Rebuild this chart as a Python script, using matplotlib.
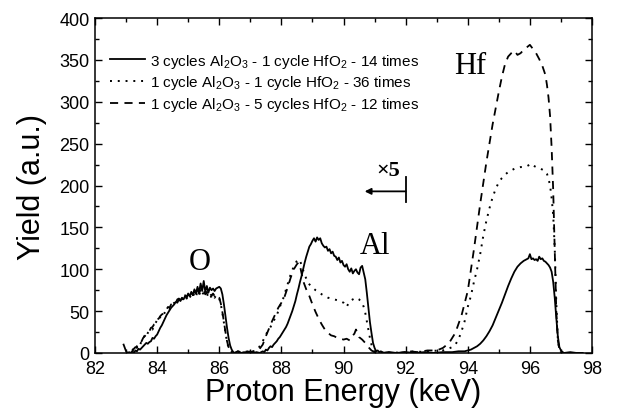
import matplotlib
matplotlib.use("Agg")
import matplotlib.pyplot as plt
from matplotlib.ticker import MultipleLocator

plt.rcParams['font.family'] = ['Liberation Sans', 'DejaVu Sans']
plt.rcParams['mathtext.default'] = 'regular'

# ---------------- data ----------------
e_solid = [82.92, 82.96, 83.00, 83.05, 83.10, 83.15, 83.20, 83.25, 83.30, 83.35, 83.40, 83.45, 83.50, 83.55,
           83.60, 83.65, 83.70, 83.75, 83.80, 83.85, 83.90, 83.95, 84.00, 84.05, 84.10, 84.15, 84.20, 84.25,
           84.30, 84.35, 84.40, 84.45, 84.50, 84.55, 84.60, 84.65, 84.70, 84.75, 84.80, 84.85, 84.90, 84.95,
           85.00, 85.05, 85.10, 85.15, 85.20, 85.25, 85.30, 85.35, 85.40, 85.45, 85.50, 85.55, 85.60, 85.65,
           85.70, 85.75, 85.80, 85.85, 85.90, 85.95, 86.00, 86.05, 86.10, 86.15, 86.20, 86.25, 86.30, 86.35,
           86.40, 86.45, 86.50, 86.60, 86.70, 86.80, 86.90, 87.00, 87.10, 87.20, 87.30, 87.40, 87.45, 87.50,
           87.55, 87.60, 87.65, 87.70, 87.75, 87.80, 87.85, 87.90, 87.95, 88.00, 88.05, 88.10, 88.15, 88.20,
           88.25, 88.30, 88.35, 88.40, 88.45, 88.50, 88.55, 88.60, 88.65, 88.70, 88.75, 88.80, 88.85, 88.90,
           88.95, 89.00, 89.05, 89.10, 89.15, 89.20, 89.25, 89.30, 89.35, 89.40, 89.45, 89.50, 89.55, 89.60,
           89.65, 89.70, 89.75, 89.80, 89.85, 89.90, 89.95, 90.00, 90.05, 90.10, 90.15, 90.20, 90.25, 90.30,
           90.35, 90.40, 90.45, 90.50, 90.55, 90.60, 90.65, 90.70, 90.75, 90.80, 90.85, 90.90, 90.95, 91.00,
           91.05, 91.10, 91.15, 91.20, 91.30, 91.50, 91.70, 92.00, 92.30, 92.60, 92.90, 93.20, 93.50, 93.70,
           93.90, 94.00, 94.10, 94.20, 94.30, 94.40, 94.50, 94.60, 94.70, 94.80, 94.90, 95.00, 95.10, 95.20,
           95.30, 95.40, 95.50, 95.60, 95.70, 95.80, 95.90, 95.95, 96.00, 96.05, 96.10, 96.15, 96.20, 96.25,
           96.30, 96.35, 96.40, 96.45, 96.50, 96.55, 96.60, 96.65, 96.70, 96.75, 96.80, 96.85, 96.90, 96.95,
           97.00, 97.05, 97.10, 97.30, 97.50, 97.70]
y_solid = [10, 6, 2, 0, 1, 0, 2, 0, 3, 2, 5, 4, 6, 8,
           10, 12, 11, 13, 14, 18, 17, 20, 22, 26, 30, 33, 37, 41,
           45, 48, 51, 54, 56, 58, 61, 60, 64, 62, 66, 64, 68, 66,
           70, 68, 73, 69, 76, 71, 79, 72, 83, 74, 86, 73, 80, 72,
           78, 75, 77, 74, 77, 78, 79, 77, 70, 58, 44, 30, 18, 9,
           4, 1, 0, 2, 0, 1, 0, 2, 0, 1, 0, 2, 1, 4,
           3, 6, 8, 7, 10, 12, 14, 17, 19, 22, 25, 28, 31, 35,
           40, 45, 50, 56, 62, 70, 77, 85, 92, 100, 108, 115, 121, 127,
           130, 134, 137, 133, 138, 135, 137, 131, 128, 126, 127, 122, 124, 119,
           121, 116, 115, 111, 114, 108, 110, 105, 103, 106, 100, 97, 101, 95,
           98, 100, 96, 94, 102, 104, 96, 88, 72, 54, 37, 24, 12, 6,
           2, 3, 1, 2, 0, 1, 0, 1, 0, 1, 0, 1, 1, 2,
           2, 3, 4, 6, 8, 11, 15, 20, 26, 33, 42, 51, 60, 70,
           80, 89, 97, 103, 107, 110, 112, 113, 118, 112, 113, 111, 112, 110,
           115, 112, 113, 110, 109, 107, 105, 102, 97, 85, 66, 42, 20, 7,
           3, 1, 0, 1, 0, 0]

e_dot = [83.20, 83.25, 83.30, 83.35, 83.40, 83.45, 83.50, 83.55, 83.60, 83.65, 83.70, 83.75, 83.80, 83.85,
         83.90, 83.95, 84.00, 84.05, 84.10, 84.15, 84.20, 84.25, 84.30, 84.35, 84.40, 84.45, 84.50, 84.55,
         84.60, 84.65, 84.70, 84.75, 84.80, 84.85, 84.90, 84.95, 85.00, 85.05, 85.10, 85.15, 85.20, 85.25,
         85.30, 85.35, 85.40, 85.45, 85.50, 85.55, 85.60, 85.65, 85.70, 85.75, 85.80, 85.85, 85.90, 85.95,
         86.00, 86.05, 86.10, 86.15, 86.20, 86.25, 86.30, 86.35, 86.40, 86.50, 86.60, 86.70, 86.80, 86.90,
         87.00, 87.10, 87.20, 87.25, 87.30, 87.35, 87.40, 87.45, 87.50, 87.55, 87.60, 87.65, 87.70, 87.75,
         87.80, 87.85, 87.90, 87.95, 88.00, 88.05, 88.10, 88.15, 88.20, 88.25, 88.30, 88.35, 88.40, 88.45,
         88.50, 88.55, 88.60, 88.65, 88.70, 88.75, 88.80, 88.85, 88.90, 88.95, 89.00, 89.10, 89.20, 89.30,
         89.40, 89.50, 89.60, 89.70, 89.80, 89.90, 90.00, 90.10, 90.20, 90.30, 90.40, 90.50, 90.60, 90.65,
         90.70, 90.75, 90.80, 90.85, 90.90, 90.95, 91.00, 91.10, 91.30, 91.60, 92.00, 92.30, 92.60, 92.90,
         93.10, 93.30, 93.50, 93.60, 93.70, 93.80, 93.90, 94.00, 94.10, 94.20, 94.30, 94.40, 94.50, 94.60,
         94.70, 94.80, 94.90, 95.00, 95.10, 95.20, 95.30, 95.40, 95.50, 95.60, 95.70, 95.80, 95.90, 96.00,
         96.05, 96.10, 96.20, 96.30, 96.40, 96.50, 96.55, 96.60, 96.65, 96.70, 96.75, 96.80, 96.85, 96.90,
         96.95, 97.00, 97.10, 97.40, 97.70]
y_dot = [3, 6, 4, 8, 11, 9, 15, 17, 21, 19, 24, 27, 29, 28,
         33, 36, 39, 38, 43, 45, 44, 49, 51, 53, 52, 56, 58, 60,
         58, 62, 64, 61, 65, 63, 67, 65, 69, 66, 70, 67, 72, 68,
         73, 69, 74, 70, 72, 69, 71, 67, 70, 66, 69, 66, 69, 67,
         65, 58, 48, 36, 24, 13, 6, 3, 1, 0, 1, 0, 2, 1,
         0, 2, 3, 5, 8, 10, 14, 18, 22, 25, 28, 31, 35, 38,
         42, 45, 50, 55, 60, 64, 70, 76, 82, 88, 94, 99, 103, 107,
         110, 112, 110, 105, 99, 93, 89, 85, 82, 80, 78, 75, 73, 70,
         68, 66, 65, 64, 63, 62, 60, 55, 62, 64, 66, 64, 60, 55,
         48, 38, 28, 18, 10, 4, 1, 0, 1, 0, 1, 2, 1, 3,
         2, 4, 7, 10, 16, 26, 38, 55, 68, 85, 100, 118, 140, 158,
         173, 186, 196, 204, 209, 213, 216, 218, 220, 221, 222, 222, 223, 225,
         223, 224, 222, 221, 219, 217, 214, 208, 200, 185, 165, 125, 60, 16,
         4, 1, 0, 0, 0]

e_dash = [83.20, 83.25, 83.30, 83.35, 83.40, 83.45, 83.50, 83.55, 83.60, 83.65, 83.70, 83.75, 83.80, 83.85,
          83.90, 83.95, 84.00, 84.05, 84.10, 84.15, 84.20, 84.25, 84.30, 84.35, 84.40, 84.45, 84.50, 84.55,
          84.60, 84.65, 84.70, 84.75, 84.80, 84.85, 84.90, 84.95, 85.00, 85.05, 85.10, 85.15, 85.20, 85.25,
          85.30, 85.35, 85.40, 85.45, 85.50, 85.55, 85.60, 85.65, 85.70, 85.75, 85.80, 85.85, 85.90, 85.95,
          86.00, 86.05, 86.10, 86.15, 86.20, 86.25, 86.30, 86.35, 86.40, 86.50, 86.60, 86.70, 86.80, 86.90,
          87.00, 87.10, 87.20, 87.30, 87.40, 87.50, 87.60, 87.70, 87.80, 87.90, 88.00, 88.10, 88.20, 88.30,
          88.40, 88.50, 88.55, 88.60, 88.65, 88.70, 88.80, 88.90, 89.00, 89.10, 89.20, 89.30, 89.40, 89.50,
          89.60, 89.70, 89.80, 89.90, 90.00, 90.10, 90.20, 90.30, 90.35, 90.40, 90.45, 90.50, 90.60, 90.70,
          90.80, 90.90, 91.00, 91.20, 91.50, 91.80, 92.10, 92.40, 92.70, 93.00, 93.20, 93.40, 93.60, 93.80,
          94.00, 94.20, 94.40, 94.60, 94.80, 95.00, 95.10, 95.20, 95.30, 95.40, 95.50, 95.60, 95.70, 95.80,
          95.90, 96.00, 96.10, 96.20, 96.30, 96.40, 96.50, 96.55, 96.60, 96.65, 96.70, 96.75, 96.80, 96.85,
          96.90, 96.95, 97.00, 97.10, 97.40, 97.70]
y_dash = [2, 5, 7, 6, 10, 12, 14, 18, 20, 22, 25, 26, 30, 31,
          34, 35, 40, 41, 44, 46, 47, 50, 52, 55, 54, 58, 59, 61,
          60, 64, 65, 63, 67, 66, 69, 67, 71, 68, 72, 69, 74, 70,
          75, 71, 76, 72, 74, 70, 73, 69, 72, 68, 71, 68, 70, 68,
          66, 59, 49, 37, 25, 14, 7, 3, 1, 0, 2, 1, 0, 2,
          1, 2, 3, 5, 10, 20, 29, 38, 46, 54, 60, 67, 78, 90,
          100, 106, 108, 104, 95, 86, 76, 68, 58, 49, 41, 34, 28, 24,
          21, 20, 18, 17, 16, 17, 15, 21, 23, 28, 24, 19, 16, 12,
          7, 3, 1, 0, 1, 0, 2, 1, 3, 3, 6, 12, 24, 45,
          74, 124, 178, 228, 273, 312, 330, 345, 354, 358, 361, 356, 358, 362,
          365, 368, 363, 358, 351, 343, 332, 320, 305, 283, 245, 195, 120, 50,
          15, 4, 1, 0, 0, 0]

labels = ["3 cycles Al$_2$O$_3$ - 1 cycle HfO$_2$ - 14 times",
          "1 cycle Al$_2$O$_3$ - 1 cycle HfO$_2$ - 36 times",
          "1 cycle Al$_2$O$_3$ - 5 cycles HfO$_2$ - 12 times"]

peak_names = ["O", "Al", "Hf"]
peak_pos = [(85.38, 109), (91.0, 128), (94.07, 343)]

# ---------------- figure ----------------
fig = plt.figure(figsize=(6.17, 4.14), dpi=100)
ax = fig.add_axes([0.154, 0.145, 0.8055, 0.809])

ax.plot(e_solid, y_solid, color='k', lw=1.3, ls='-', label=labels[0])
ax.plot(e_dot, y_dot, color='k', lw=1.4, ls=(0, (1, 3)), label=labels[1])
ax.plot(e_dash, y_dash, color='k', lw=1.3, ls=(0, (4.5, 3.5)), label=labels[2])

ax.set_xlim(82, 98)
ax.set_ylim(0, 400)
ax.xaxis.set_major_locator(MultipleLocator(2))
ax.xaxis.set_minor_locator(MultipleLocator(1))
ax.yaxis.set_major_locator(MultipleLocator(50))
ax.yaxis.set_minor_locator(MultipleLocator(25))
ax.tick_params(which='both', direction='in', top=True, right=True, width=1.0)
ax.tick_params(which='major', length=5, labelsize=13)
ax.tick_params(axis='y', which='major', pad=4)
ax.tick_params(axis='x', which='major', pad=5)
ax.tick_params(which='minor', length=3)
for s in ax.spines.values():
    s.set_linewidth(1.1)

ax.set_xlabel("Proton Energy (keV)", fontsize=22, labelpad=0)
ax.set_ylabel("Yield (a.u.)", fontsize=22, labelpad=9)

for name, (px, py) in zip(peak_names, peak_pos):
    ax.text(px, py, name, family=['Liberation Serif', 'DejaVu Serif'], fontsize=22,
            ha='center', va='center')

# x5 marker
ax.plot([92, 92], [180, 210], color='k', lw=1.3)
ax.annotate('', xy=(90.68, 193), xytext=(92, 193),
            arrowprops=dict(arrowstyle='-|>', color='k', lw=1.3, mutation_scale=9, shrinkA=0, shrinkB=0))
ax.text(91.45, 219, "×5", family=['Liberation Serif', 'DejaVu Serif'], fontsize=16,
        fontweight='bold', ha='center', va='center')

leg = ax.legend(loc='upper left', bbox_to_anchor=(0.03, 0.90), frameon=False, fontsize=11,
                handlelength=2.3, handletextpad=0.35, labelspacing=0.25, borderpad=0, borderaxespad=0)

fig.savefig("out.png", dpi=100)
